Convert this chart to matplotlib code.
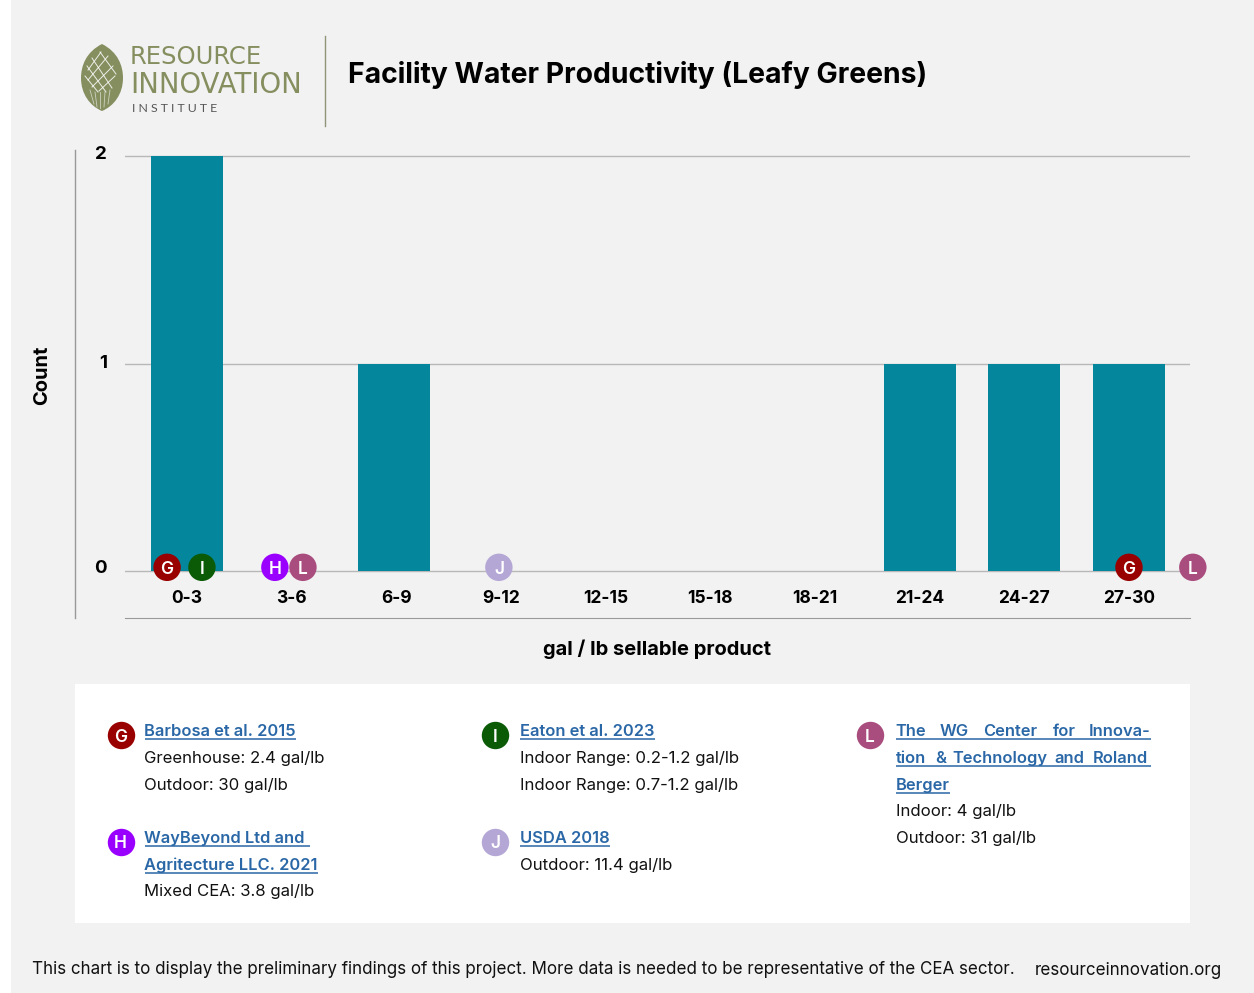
import matplotlib
matplotlib.use('Agg')
import matplotlib.pyplot as plt
from matplotlib.patches import Rectangle, PathPatch
from matplotlib.path import Path
from matplotlib.transforms import ScaledTranslation

bins = ['0-3', '3-6', '6-9', '9-12', '12-15', '15-18', '18-21', '21-24', '24-27', '27-30']
tick_x = [0, 1, 2, 3, 4, 5, 6, 7, 8, 9]
bar_x = [0, 1, 1.98, 3, 4, 5, 6, 7, 8, 9]
counts = [2, 0, 1, 0, 0, 0, 0, 1, 1, 1]

# study dots sit on the zero line, x is in bin units
dot_letters = ['G', 'I', 'H', 'L', 'J', 'G', 'L']
dot_x = [-0.19, 0.143, 0.84, 1.108, 2.98, 9.0, 9.61]
dot_y = [0.02, 0.02, 0.02, 0.02, 0.02, 0.02, 0.02]

letter_colors = {'G': '#990000', 'I': '#0B5A06', 'H': '#9900FF', 'L': '#A94C7E', 'J': '#B4A7D6'}

FONT = 'Inter'
GREY_BG = '#F2F2F2'
TEAL = '#04869C'
LINK = '#2A67A6'
OLIVE = '#858E5F'

W, H = 1254, 993
fig = plt.figure(figsize=(W / 100, H / 100), dpi=100, facecolor='white')

# page axes in pixel coords for header, legend panel and footer
page = fig.add_axes([0, 0, 1, 1])
page.set_xlim(0, W)
page.set_ylim(H, 0)
page.axis('off')
page.add_patch(Rectangle((11, 0), W - 11, H, color=GREY_BG, lw=0))
page.add_patch(Rectangle((75, 684), 1115, 239, color='white', lw=0))
page.plot([75, 75], [150, 618], color='#999999', lw=1)
page.plot([325, 325], [36, 126], color='#8F9678', lw=1)

# logo seed
seed = Path([(102, 44), (118, 52), (123, 66), (123, 78), (123, 94), (114, 106), (102, 111),
             (90, 106), (81, 94), (81, 78), (81, 66), (86, 52), (102, 44)],
            [Path.MOVETO] + [Path.CURVE4] * 12)
page.add_patch(PathPatch(seed, facecolor=OLIVE, edgecolor='none'))
for x0, y0, x1, y1 in [(88, 70, 101, 52), (88, 80, 108, 56), (92, 87, 113, 66), (99, 91, 115, 76),
                       (92, 58, 112, 88), (87, 66, 106, 92), (100, 52, 116, 74), (85, 76, 98, 92)]:
    page.plot([x0, x1], [y0, y1], color='white', lw=0.7, alpha=0.85)
for x0, y0, x1, y1 in [(90, 90, 94, 104), (95, 92, 97, 107), (100, 92, 100, 108), (105, 92, 104, 107), (110, 90, 108, 104)]:
    page.plot([x0, x1], [y0, y1], color='white', lw=0.6, alpha=0.6)

page.text(130, 64, 'RESOURCE', fontsize=17.5, family='Liberation Sans Narrow', color=OLIVE, va='baseline')
page.text(130, 93, 'INNOVATION', fontsize=19.8, family='Liberation Sans Narrow', color=OLIVE, va='baseline')
page.text(132, 112, 'I N S T I T U T E', fontsize=8.9, family='Lato', color='#555555', va='baseline')

page.text(348, 83, 'Facility Water Productivity (Leafy Greens)', fontsize=20.38, family=FONT,
          fontweight='bold', color='black', va='baseline')

page.text(42.5, 375, 'Count', fontsize=14.5, family=FONT, fontweight='bold', rotation=90, ha='center', va='center')
page.text(657, 649, 'gal / lb sellable product', fontsize=14.5, family=FONT, fontweight='bold', ha='center', va='center')

# histogram
ax = fig.add_axes([125 / W, 1 - 618 / H, 1065 / W, 468 / H])
ax.patch.set_alpha(0)
ax.bar(bar_x, counts, width=0.688, color=TEAL, zorder=2)
ax.set_xlim(-0.592, 9.583)
ax.set_ylim(-0.224, 2.029)
ax.set_xticks(tick_x)
ax.set_xticklabels(bins, fontsize=12.5, family=FONT, fontweight='bold')
ax.set_yticks([0, 1, 2])
ax.set_yticklabels(['0', '1', '2'], fontsize=13.5, family=FONT, fontweight='bold')
ax.tick_params(axis='x', length=0, pad=-20)
ax.tick_params(axis='y', length=0, pad=13)
for t, shift in zip(ax.get_yticklabels(), [5, 2, 4]):
    t.set_transform(t.get_transform() + ScaledTranslation(0, shift / 100, fig.dpi_scale_trans))
ax.grid(axis='y', color='#B8B8B8', lw=1)
ax.set_axisbelow(True)
for side in ['top', 'left', 'right']:
    ax.spines[side].set_visible(False)
ax.spines['bottom'].set_color('#999999')

ax.scatter(dot_x, dot_y, s=390, c=[letter_colors[k] for k in dot_letters], lw=0, zorder=3, clip_on=False)
for k, x, y in zip(dot_letters, dot_x, dot_y):
    ax.text(x, y, k, color='white', fontsize=12.5, family=FONT, fontweight='semibold',
            ha='center', va='center_baseline', zorder=4, clip_on=False)

# legend panel
legend_dots = [('G', 121, 735), ('I', 495, 735), ('L', 869.5, 735), ('H', 120.5, 841.5), ('J', 495, 842)]
for k, x, y in legend_dots:
    page.scatter([x], [y], s=390, color=letter_colors[k], lw=0, zorder=3)
    page.text(x, y, k, color='white', fontsize=12.5, family=FONT, fontweight='semibold',
              ha='center', va='center_baseline', zorder=4)

BODY = 12.05
LINK_SIZE = 11.85
FOOT = 12.25
renderer = fig.canvas.get_renderer()


def link(x, y, s):
    t = page.text(x, y, s, fontsize=LINK_SIZE, family=FONT, fontweight='semibold', color=LINK, va='baseline')
    return page.transData.inverted().transform(t.get_window_extent(renderer).corners()[3])[0]


def underline(x0, x1, y):
    page.plot([x0, x1], [y + 2.5, y + 2.5], color=LINK, lw=1.1, solid_capstyle='butt')


link_lines = [(144.5, 736, 'Barbosa et al. 2015', 0), (144.5, 843, 'WayBeyond Ltd and', 5),
              (144.5, 870, 'Agritecture LLC. 2021', 0), (520, 736, 'Eaton et al. 2023', 0),
              (520, 843, 'USDA 2018', 0), (895.5, 790, 'Berger', 0)]
for x, y, s, extra in link_lines:
    underline(x, link(x, y, s) + extra, y)

# justified title of the WG Center entry
for x, s in [(895.5, 'The'), (940, 'WG'), (983, 'Center'), (1053, 'for'), (1089, 'Innova-')]:
    link(x, 736, s)
underline(895.5, 1151, 736)
for x, s in [(895.5, 'tion'), (935, '&'), (952, 'Technology'), (1054, 'and'), (1093, 'Roland')]:
    link(x, 763, s)
underline(895.5, 1151, 763)

body_lines = [(144.5, 763, 'Greenhouse: 2.4 gal/lb'), (144.5, 790, 'Outdoor: 30 gal/lb'),
              (144.5, 896, 'Mixed CEA: 3.8 gal/lb'), (520, 763, 'Indoor Range: 0.2-1.2 gal/lb'),
              (520, 790, 'Indoor Range: 0.7-1.2 gal/lb'), (520, 870, 'Outdoor: 11.4 gal/lb'),
              (895.5, 816, 'Indoor: 4 gal/lb'), (895.5, 843, 'Outdoor: 31 gal/lb')]
for x, y, s in body_lines:
    page.text(x, y, s, fontsize=BODY, family=FONT, color='#111111', va='baseline')

page.text(32, 974, 'This chart is to display the preliminary findings of this project. More data is needed to be representative of the CEA sector.',
          fontsize=FOOT, family=FONT, color='#111111', va='baseline')
page.text(1035, 975, 'resourceinnovation.org', fontsize=FOOT, family=FONT, color='#111111', va='baseline')

fig.savefig('out.png', dpi=100)
